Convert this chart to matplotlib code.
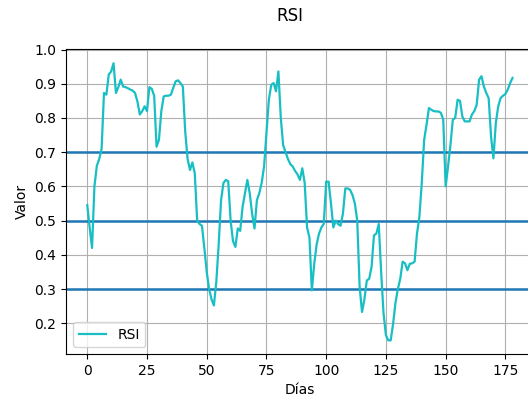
import matplotlib
matplotlib.use("Agg")
import matplotlib.pyplot as plt

# Daily RSI values (day 0 .. 178)
rsi = [
    0.545, 0.48, 0.42, 0.60, 0.66, 0.68, 0.71, 0.873, 0.868, 0.927,
    0.936, 0.96, 0.873, 0.89, 0.912, 0.892, 0.89, 0.887, 0.883, 0.88,
    0.873, 0.848, 0.81, 0.82, 0.834, 0.82, 0.89, 0.885, 0.865, 0.716,
    0.736, 0.82, 0.863, 0.865, 0.865, 0.868, 0.888, 0.907, 0.91, 0.902,
    0.892, 0.76, 0.68, 0.648, 0.67, 0.638, 0.50, 0.49, 0.485, 0.42,
    0.35, 0.30, 0.27, 0.252, 0.32, 0.43, 0.56, 0.61, 0.619, 0.615,
    0.50, 0.44, 0.423, 0.477, 0.47, 0.54, 0.58, 0.619, 0.58, 0.52,
    0.477, 0.56, 0.58, 0.61, 0.658, 0.756, 0.853, 0.897, 0.902, 0.878,
    0.936, 0.80, 0.72, 0.70, 0.68, 0.665, 0.658, 0.645, 0.635, 0.619,
    0.653, 0.61, 0.48, 0.45, 0.296, 0.374, 0.43, 0.462, 0.48, 0.491,
    0.614, 0.614, 0.55, 0.48, 0.50, 0.49, 0.485, 0.52, 0.594, 0.594,
    0.59, 0.575, 0.55, 0.50, 0.306, 0.233, 0.27, 0.325, 0.33, 0.365,
    0.457, 0.462, 0.49, 0.35, 0.23, 0.165, 0.15, 0.15, 0.198, 0.26,
    0.30, 0.33, 0.38, 0.375, 0.355, 0.374, 0.375, 0.38, 0.462, 0.51,
    0.609, 0.736, 0.78, 0.829, 0.824, 0.82, 0.819, 0.819, 0.815, 0.795,
    0.60, 0.658, 0.72, 0.795, 0.80, 0.853, 0.85, 0.804, 0.79, 0.79,
    0.79, 0.81, 0.82, 0.839, 0.912, 0.922, 0.892, 0.873, 0.858, 0.746,
    0.682, 0.785, 0.834, 0.858, 0.865, 0.87, 0.883, 0.902, 0.917,
]
days = list(range(len(rsi)))

# Reference levels
levels = [0.3, 0.5, 0.7]

fig = plt.figure(figsize=(5.28, 3.98), dpi=100)
ax = fig.add_axes([0.125, 0.11, 0.886, 0.766])

for lv in levels:
    ax.axhline(lv, color="#1f77b4", lw=1.8, zorder=2)
ax.plot(days, rsi, color="#17bfc4", lw=1.6, label="RSI", zorder=3)

ax.grid(True)
ax.set_xlabel("Días")
ax.set_ylabel("Valor")
ax.legend(loc="lower left")
fig.text(290 / 528, 1 - 16 / 398, "RSI", ha="center", va="center", fontsize=12)

fig.savefig("out.png", dpi=100)
